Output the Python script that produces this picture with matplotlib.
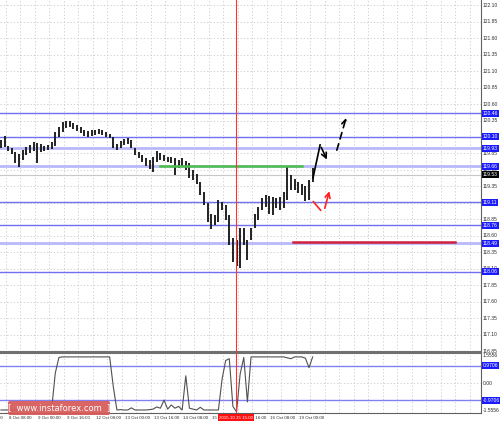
import matplotlib.pyplot as plt
import numpy as np
from matplotlib.patches import FancyBboxPatch

# 2-hour bars (price high / low)
highs = [120.06, 120.12, 119.96, 119.93, 119.87, 119.84, 119.90, 119.95, 119.98, 120.03,
         120.01, 120.00, 119.96, 119.98, 120.03, 120.18, 120.25, 120.33, 120.34, 120.34,
         120.31, 120.28, 120.25, 120.21, 120.19, 120.21, 120.21, 120.22, 120.21, 120.18,
         120.15, 120.10, 120.00, 120.04, 120.07, 120.09, 120.06, 119.93, 119.87, 119.83,
         119.78, 119.75, 119.80, 119.89, 119.86, 119.83, 119.80, 119.80, 119.78, 119.75,
         119.78, 119.74, 119.71, 119.60, 119.54, 119.42, 119.27, 119.10, 118.93, 118.92,
         119.15, 119.12, 119.07, 118.92, 118.57, 118.54, 118.72, 118.72, 118.54, 118.72,
         118.93, 119.04, 119.18, 119.22, 119.21, 119.19, 119.18, 119.19, 119.27, 119.65,
         119.52, 119.46, 119.42, 119.39, 119.36, 119.45, 119.63]
lows = [119.93, 119.95, 119.89, 119.84, 119.71, 119.65, 119.75, 119.83, 119.86, 119.89,
        119.71, 119.87, 119.89, 119.90, 119.92, 119.96, 120.10, 120.18, 120.24, 120.25,
        120.22, 120.19, 120.16, 120.12, 120.10, 120.12, 120.13, 120.15, 120.13, 120.10,
        120.09, 119.93, 119.90, 119.93, 119.98, 120.00, 119.93, 119.83, 119.78, 119.72,
        119.66, 119.62, 119.57, 119.72, 119.75, 119.74, 119.72, 119.71, 119.52, 119.63,
        119.65, 119.60, 119.48, 119.45, 119.39, 119.22, 119.07, 118.81, 118.71, 118.77,
        118.81, 118.99, 118.84, 118.46, 118.21, 118.15, 118.12, 118.46, 118.24, 118.54,
        118.72, 118.84, 118.99, 119.04, 118.93, 118.92, 119.02, 118.99, 119.02, 119.15,
        119.30, 119.30, 119.25, 119.22, 119.13, 119.15, 119.42]
osc = [-1.50, -1.50, -1.50, -1.50, -1.50, -1.50, -1.50, -1.50, -1.50, -1.50,
       -1.50, -1.50, -1.50, -1.50, -1.45, 0.55, 1.42, 1.45, 1.45, 1.45,
       1.45, 1.45, 1.45, 1.45, 1.45, 1.45, 1.45, 1.45, 1.45, 1.45,
       1.45, -0.20, -1.50, -1.48, -1.50, -1.50, -1.38, -1.50, -1.50, -1.50,
       -1.50, -1.48, -1.45, -1.33, -1.40, -0.95, -1.45, -1.22, -1.40, -1.30,
       -1.50, 0.40, -1.40, -1.45, -1.50, -1.35, -1.50, -1.50, -1.50, -1.50,
       -1.50, 0.20, 1.25, 1.35, -1.30, -1.60, 0.50, 1.42, -1.05, 1.45,
       1.45, 1.45, 1.45, 1.45, 1.45, 1.45, 1.45, 1.45, 1.45, 1.40,
       1.35, 1.45, 1.45, 1.45, 1.38, 0.85, 1.45]

tick_hours = [-12.8, 3.2, 19.2, 35.2, 51.2, 67.2, 83.2, 99.2, 115.2, 131.2, 147.2, 163.2]
tick_labels = ['7 Oct 16:00', '8 Oct 08:00', '9 Oct 00:00', '9 Oct 16:00', '12 Oct 08:00',
               '13 Oct 00:00', '13 Oct 16:00', '14 Oct 08:00', '15 Oct 00:00',
               '15 Oct 16:00', '16 Oct 08:00', '19 Oct 00:00']

blue_thin = [120.46, 120.10, 119.11, 118.76, 118.06]
blue_wide = [119.93, 119.66, 118.49]
current_price = 119.53
green_level, green_span = 119.66, (88.3, 166.6)
red_level, red_span = 118.51, (161.7, 251.0)
marker_hour, marker_label = 130.2, '2015.10.15 15:00'

black_h, black_p = [172.7, 176.6, 181.0], [119.48, 119.98, 119.72]
dash_h, dash_p = [185.4, 191.4], [119.86, 120.43]
red1_h, red1_p = [172.9, 176.9], [119.12, 118.99]
red2_h, red2_p = [178.8, 182.1], [118.98, 119.32]

osc_levels = [0.9706, -0.9706]
osc_labels = [(1.5556, '1.5556'), (0.0, '0.00'), (-1.5556, '-1.5556')]

hours = np.arange(len(highs)) * 2 + 0.5
xmax = 481 / 1.8125
grid_hours = np.arange(-12.8, xmax, 8)
price_grid = np.round(np.arange(116.85, 122.11, 0.25), 2)

fig = plt.figure(figsize=(5, 4.23), dpi=100)
ax = fig.add_axes([0, 71 / 423, 481 / 500, 352 / 423])
ax2 = fig.add_axes([0, 10 / 423, 481 / 500, 60 / 423])

grid_kw = dict(color='#c8c8c8', lw=0.6, ls=(0, (1.5, 2.5)), zorder=0)
for a in (ax, ax2):
    a.set_xlim(0, xmax)
    a.set_xticks([])
    a.set_yticks([])
    for h in grid_hours:
        a.axvline(h, **grid_kw)
    for s in ('top', 'left'):
        a.spines[s].set_visible(False)
    a.spines['right'].set_color('#606060')
    a.axvline(marker_hour, color='#ff3030', lw=0.8, zorder=4)

ax.set_ylim(116.842, 122.176)
for p in price_grid:
    ax.axhline(p, **grid_kw)
ax.spines['bottom'].set_color('#707070')
ax.spines['bottom'].set_linewidth(1.5)

for p in blue_thin:
    ax.axhline(p, color='#7070f0', lw=1.0, zorder=2)
for p in blue_wide:
    ax.axhline(p, color='#b8b8fa', lw=2.0, zorder=2)
ax.axhline(current_price, color='#c8c8c8', lw=0.8, zorder=2)

ax.vlines(hours, lows, highs, color='#1a1a1a', lw=1.35, zorder=3)

ax.plot(green_span, [green_level] * 2, color='#4cbf4c', lw=1.8, zorder=3)
ax.plot(red_span, [red_level] * 2, color='#d0203c', lw=1.8, zorder=3)

akw = dict(arrowstyle='->', mutation_scale=9)
ax.plot(black_h[:-1], black_p[:-1], color='k', lw=1.2, zorder=5)
ax.annotate('', xy=(black_h[-1], black_p[-1]), xytext=(black_h[-2], black_p[-2]),
            arrowprops=dict(color='k', lw=1.2, **akw), zorder=5)
ax.annotate('', xy=(dash_h[1], dash_p[1]), xytext=(dash_h[0], dash_p[0]),
            arrowprops=dict(color='k', lw=1.2, ls=(0, (4, 3)), **akw), zorder=5)
ax.plot(red1_h, red1_p, color='#ff2020', lw=1.2, zorder=5)
ax.annotate('', xy=(red2_h[1], red2_p[1]), xytext=(red2_h[0], red2_p[0]),
            arrowprops=dict(color='#ff2020', lw=1.2, **akw), zorder=5)

lab_kw = dict(ha='left', va='center', fontsize=3.6, family='Liberation Sans', clip_on=False)
yt = ax.get_yaxis_transform()
for p in price_grid:
    ax.text(1.004, p, f'{p:.2f}', transform=yt, color='#303030', zorder=6, **lab_kw)
for p in blue_thin + blue_wide:
    ax.text(1.004, p, f'{p:.2f}', transform=yt, color='white', zorder=7,
            bbox=dict(boxstyle='square,pad=0.2', fc='#1a1aff', ec='none'), **lab_kw)
ax.text(1.004, current_price, f'{current_price:.2f}', transform=yt, color='white', zorder=8,
        bbox=dict(boxstyle='square,pad=0.2', fc='black', ec='none'), **lab_kw)

ax2.set_ylim(-1.667, 1.667)
ax2.axhline(0, **grid_kw)
ax2.spines['top'].set_color('#707070')
ax2.spines['top'].set_linewidth(1.5)
ax2.spines['top'].set_visible(True)
ax2.spines['bottom'].set_color('#606060')
for v in osc_levels:
    ax2.axhline(v, color='#8080f0', lw=1.0, zorder=2)
ax2.plot(hours, osc, color='#505050', lw=0.8, zorder=3)
yt2 = ax2.get_yaxis_transform()
for v, s in osc_labels:
    ax2.text(1.004, v, s, transform=yt2, color='#303030', zorder=6, **lab_kw)
for v in osc_levels:
    ax2.text(1.004, v, f'{v:.4f}', transform=yt2, color='white', zorder=7,
             bbox=dict(boxstyle='square,pad=0.2', fc='#1a1aff', ec='none'), **lab_kw)

xt = ax2.get_xaxis_transform()
for h, s in zip(tick_hours, tick_labels):
    ax2.text(h + 1.8, -0.08, s, transform=xt, ha='left', va='center', fontsize=3.2,
             family='Liberation Sans', color='#303030', clip_on=False)
ax2.text(marker_hour, -0.08, marker_label, transform=xt, ha='center', va='center',
         fontsize=3.2, family='Liberation Sans', color='white', clip_on=False, zorder=9,
         bbox=dict(boxstyle='square,pad=0.3', fc='#ff1010', ec='none'))

wm = FancyBboxPatch((8 / 500, 8 / 423), 102 / 500, 14 / 423, transform=fig.transFigure,
                    boxstyle='round,pad=0,rounding_size=0.004', fc='#d65858', ec='none',
                    alpha=0.92, zorder=10)
fig.add_artist(wm)
fig.text(59 / 500, 15 / 423, '[  www.instaforex.com  ]', ha='center', va='center',
         fontsize=6, color='white', zorder=11)

fig.savefig('out.png', dpi=100)
